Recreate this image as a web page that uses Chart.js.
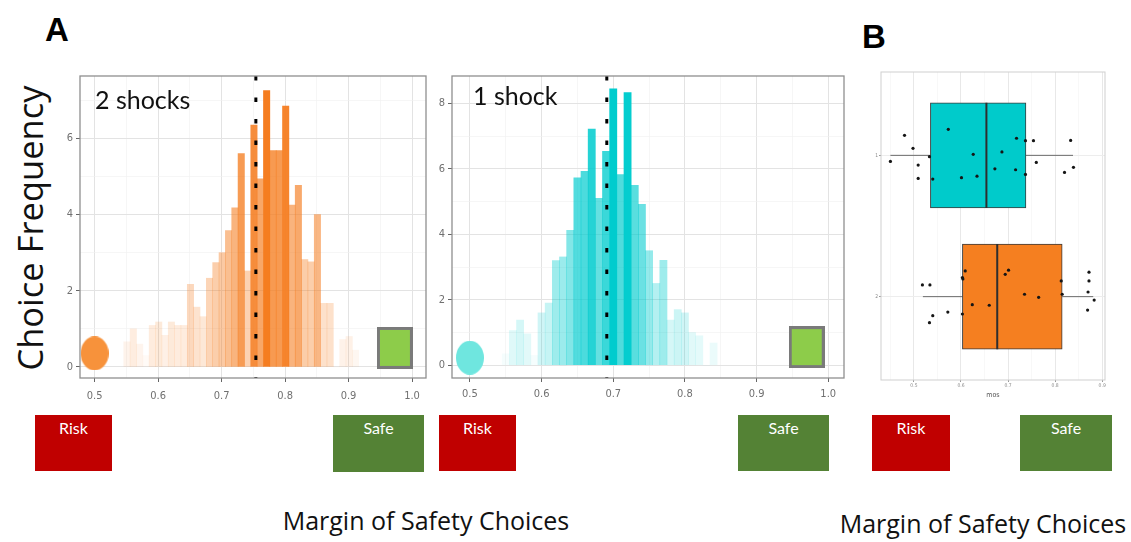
<!DOCTYPE html>
<html><head><meta charset="utf-8">
<script src="https://cdn.jsdelivr.net/npm/chart.js@4.4.1/dist/chart.umd.min.js"></script>
<style>
html,body{margin:0;padding:0;background:#fff;}
#root{position:relative;width:1131px;height:542px;overflow:hidden;background:#fff;font-family:Lato,'Open Sans',sans-serif;color:#111;}
.panel{position:absolute;}
.txt{position:absolute;line-height:1;white-space:nowrap;}
.letter{font-family:'Liberation Sans','DejaVu Sans',sans-serif;font-weight:bold;font-size:33px;color:#000;}
.tag{position:absolute;color:#fff;font-size:16px;line-height:1;text-align:center;padding-top:5px;box-sizing:border-box;font-family:Lato,sans-serif;}
.risk{background:#C00000;}
.safe{background:#548235;}
.big{font-family:'Open Sans',Lato,sans-serif;}
</style></head>
<body><div id="root">
  <div class="txt letter" style="left:45px;top:13px;">A</div>
  <div class="txt letter" style="left:862px;top:20px;">B</div>
  <div class="txt big" style="left:-120px;top:208px;width:300px;height:40px;line-height:40px;text-align:center;font-size:34.5px;transform:rotate(-90deg);">Choice Frequency</div>

  <div class="panel" style="left:50px;top:60px;width:392px;height:350px;"><canvas id="c1"></canvas></div>
  <div class="panel" style="left:420px;top:60px;width:440px;height:350px;"><canvas id="c2"></canvas></div>
  <div class="panel" style="left:855px;top:60px;width:270px;height:345px;"><canvas id="c3"></canvas></div>

  <div class="txt" style="left:95px;top:87px;font-size:25px;">2 shocks</div>
  <div class="txt" style="left:473px;top:83px;font-size:25px;">1 shock</div>

  <div class="tag risk" style="left:35px;top:415px;width:77px;height:56px;">Risk</div>
  <div class="tag safe" style="left:333px;top:415px;width:91px;height:57px;">Safe</div>
  <div class="tag risk" style="left:439px;top:415px;width:77px;height:56px;">Risk</div>
  <div class="tag safe" style="left:738px;top:415px;width:91px;height:56px;">Safe</div>
  <div class="tag risk" style="left:872px;top:415px;width:78px;height:56px;">Risk</div>
  <div class="tag safe" style="left:1020px;top:415px;width:92px;height:56px;">Safe</div>

  <div class="txt big" style="left:226px;top:508px;width:400px;text-align:center;font-size:25px;">Margin of Safety Choices</div>
  <div class="txt big" style="left:783px;top:511px;width:400px;text-align:center;font-size:25px;">Margin of Safety Choices</div>
</div>
<script>
// ---------------- data ----------------
const xTickLabels = ['0.5','0.6','0.7','0.8','0.9','1.0'];
const xMajorTicks = [0.5, 0.6, 0.7, 0.8, 0.9, 1.0];
const xMinorTicks = [0.55, 0.65, 0.75, 0.85, 0.95];

// 2 shocks histogram
const twoShockBins = [0.551,0.561,0.571,0.581,0.591,0.601,0.611,0.621,0.631,0.641,0.651,0.661,0.671,0.681,0.691,0.701,0.711,0.721,0.731,0.741,0.751,0.761,0.771,0.781,0.791,0.801,0.811,0.821,0.831,0.841,0.851,0.861,0.871,0.881,0.891,0.901,0.911];
const twoShockFreq = [0.66,1.0,0.6,0.3,1.09,1.18,0.83,1.18,1.09,1.09,2.17,1.57,1.32,2.33,2.74,3.0,3.58,4.18,5.6,2.52,6.35,4.94,7.26,5.68,5.68,6.85,4.25,4.77,2.82,2.76,4.0,1.67,1.67,0,0.72,0.8,0.44];
const twoShockMean = 0.754;
const twoShockYMajor = [0, 2, 4, 6];
const twoShockYMinor = [1, 3, 5, 7];
const twoShockRisk = {x: 0.5, y: 0.355};
const twoShockSafe = {x: 0.973, y: 0.5};

// 1 shock histogram
const oneShockBins = [0.55,0.56,0.57,0.58,0.59,0.60,0.61,0.62,0.63,0.64,0.65,0.66,0.67,0.68,0.69,0.70,0.71,0.72,0.73,0.74,0.75,0.76,0.77,0.78,0.79,0.80,0.81,0.82,0.83,0.84];
const oneShockFreq = [0.35,1.06,1.38,0.96,0.3,1.6,1.9,3.2,3.31,4.12,5.73,5.93,7.22,5.1,6.54,8.45,5.83,8.33,5.5,4.92,3.5,2.5,3.21,1.38,1.7,1.6,1.0,0.9,0,0.68];
const oneShockMean = 0.691;
const oneShockYMajor = [0, 2, 4, 6, 8];
const oneShockYMinor = [1, 3, 5, 7];
const oneShockRisk = {x: 0.5, y: 0.23};
const oneShockSafe = {x: 0.970, y: 0.555};

// B: box plots (row 1 = 1 shock, row 2 = 2 shocks)
const boxRows = [1, 2];
const boxRowLabels = ['1', '2'];
const boxQ1 = [0.535, 0.603];
const boxMedian = [0.654, 0.677];
const boxQ3 = [0.738, 0.815];
const whiskerLow = [0.450, 0.519];
const whiskerHigh = [0.838, 0.881];
const boxXMajor = [0.5, 0.6, 0.7, 0.8, 0.9];
const boxXMinor = [0.45, 0.55, 0.65, 0.75, 0.85];
const oneShockSubjX = [0.480,0.573,0.498,0.450,0.509,0.533,0.509,0.540,0.601,0.626,0.634,0.672,0.687,0.716,0.718,0.737,0.737,0.754,0.760,0.820,0.833,0.839];
const oneShockSubjY = [0.858,0.816,0.950,1.043,1.069,1.009,1.163,1.168,1.158,0.993,1.147,1.095,0.976,1.102,0.879,0.896,1.135,0.896,1.050,1.121,0.894,1.085];
const twoShockSubjX = [0.518,0.534,0.540,0.533,0.572,0.603,0.604,0.609,0.603,0.624,0.660,0.694,0.701,0.735,0.765,0.813,0.815,0.872,0.872,0.870,0.869,0.883];
const twoShockSubjY = [1.917,1.917,2.135,2.184,2.109,1.865,1.875,1.818,2.123,2.057,2.061,1.842,1.813,1.983,2.005,1.889,1.983,1.827,1.889,1.967,2.095,2.024];

// ---------------- styles ----------------
const ORANGE = [245, 125, 32];
const CYAN = [0, 204, 206];
const tickFont = "'Liberation Sans Narrow','DejaVu Sans Condensed','Liberation Sans',sans-serif";
const BOX_HALF = 0.372; // half box height in row units (matches barThickness)

function rgba(c, a) { return 'rgba(' + c[0] + ',' + c[1] + ',' + c[2] + ',' + a.toFixed(3) + ')'; }
function isIn(list, v) { return list.some(m => Math.abs(m - v) < 1e-6); }

function ellipseMarker(w, h, color) {
  const c = document.createElement('canvas'); c.width = w; c.height = h;
  const g = c.getContext('2d'); g.fillStyle = color;
  g.beginPath(); g.ellipse(w / 2, h / 2, w / 2, h / 2, 0, 0, Math.PI * 2); g.fill();
  return c;
}
function rectMarker(w, h, fill, stroke, lw) {
  const c = document.createElement('canvas'); c.width = w; c.height = h;
  const g = c.getContext('2d'); g.fillStyle = fill; g.fillRect(0, 0, w, h);
  g.strokeStyle = stroke; g.lineWidth = lw; g.strokeRect(lw / 2, lw / 2, w - lw, h - lw);
  return c;
}

const framePlugin = {
  id: 'frame',
  afterDraw(chart, args, opts) {
    const a = chart.chartArea, ctx = chart.ctx;
    ctx.save(); ctx.strokeStyle = opts.color || '#888'; ctx.lineWidth = opts.width || 1;
    ctx.strokeRect(a.left, a.top, a.right - a.left, a.bottom - a.top);
    ctx.restore();
  }
};
Chart.register(framePlugin);

function gridOpts(major, majorColor, minorColor, tickColor, tickLen) {
  return {
    offset: false,
    color: c => (c.tick && isIn(major, c.tick.value)) ? majorColor : minorColor,
    lineWidth: c => (c.tick && isIn(major, c.tick.value)) ? 1 : 0.6,
    tickColor: c => (c.tick && isIn(major, c.tick.value)) ? tickColor : 'rgba(0,0,0,0)',
    tickLength: tickLen, drawTicks: true
  };
}

function histogram(id, cfg) {
  const max = Math.max(...cfg.freq);
  return new Chart(document.getElementById(id), {
    type: 'bar',
    data: { datasets: [
      { type: 'line', data: [{x: cfg.mean, y: cfg.yMax}, {x: cfg.mean, y: cfg.yMin}],
        borderColor: '#000', borderWidth: 3, borderDash: [4.5, 17], borderCapStyle: 'butt',
        pointRadius: 0, order: 0 },
      { type: 'scatter', data: [cfg.risk], pointStyle: ellipseMarker(28, 34, cfg.riskColor), pointRadius: 15, order: 1 },
      { type: 'scatter', data: [cfg.safe], pointStyle: rectMarker(36, 42, '#8DCC4A', '#7a7a7a', 3), pointRadius: 15, order: 1 },
      { type: 'bar', data: cfg.bins.map((b, i) => ({x: b, y: cfg.freq[i]})),
        backgroundColor: cfg.freq.map(v => rgba(cfg.rgb, Math.max(0.04, v / max))),
        barPercentage: 1, categoryPercentage: 1, borderWidth: 0, order: 2 }
    ]},
    options: {
      responsive: true, maintainAspectRatio: false, animation: false,
      layout: { padding: { top: cfg.padTop, right: cfg.padRight, left: 0, bottom: 0 } },
      plugins: { legend: { display: false }, tooltip: { enabled: false }, frame: { color: '#8f8f8f', width: 1.3 } },
      scales: {
        x: {
          type: 'linear', min: cfg.xMin, max: cfg.xMax, offset: false,
          afterBuildTicks: s => { s.ticks = xMajorTicks.concat(xMinorTicks).sort((a, b) => a - b).map(v => ({value: v})); },
          afterFit: s => { s.height = cfg.xAxisH; },
          grid: gridOpts(xMajorTicks, '#e3e3e3', '#f0f0f0', '#666', 4),
          border: { display: false },
          ticks: { autoSkip: false, maxRotation: 0, minRotation: 0, padding: cfg.xPad, color: '#707070',
            font: { family: tickFont, size: 11 },
            callback: v => { const i = xMajorTicks.findIndex(m => Math.abs(m - v) < 1e-6); return i < 0 ? '' : xTickLabels[i]; } }
        },
        y: {
          type: 'linear', min: cfg.yMin, max: cfg.yMax,
          afterBuildTicks: s => { s.ticks = cfg.yMajor.concat(cfg.yMinor).sort((a, b) => a - b).map(v => ({value: v})); },
          afterFit: s => { s.width = cfg.yAxisW; },
          grid: gridOpts(cfg.yMajor, '#e3e3e3', '#f0f0f0', '#666', 4),
          border: { display: false },
          ticks: { autoSkip: false, padding: 3, color: '#707070', font: { family: tickFont, size: 11 },
            callback: v => isIn(cfg.yMajor, v) ? String(Math.round(v)) : '' }
        }
      }
    }
  });
}

histogram('c1', {
  bins: twoShockBins, freq: twoShockFreq, mean: twoShockMean, rgb: ORANGE,
  risk: twoShockRisk, safe: twoShockSafe, riskColor: '#F7923B',
  yMajor: twoShockYMajor, yMinor: twoShockYMinor,
  xMin: 0.477, xMax: 1.022, yMin: -0.29, yMax: 7.64,
  padTop: 13, padRight: 10, xAxisH: 32, yAxisW: 30, xPad: 8
});
histogram('c2', {
  bins: oneShockBins, freq: oneShockFreq, mean: oneShockMean, rgb: CYAN,
  risk: oneShockRisk, safe: oneShockSafe, riskColor: '#6FE6DF',
  yMajor: oneShockYMajor, yMinor: oneShockYMinor,
  xMin: 0.475, xMax: 1.022, yMin: -0.39, yMax: 8.84,
  padTop: 13, padRight: 11, xAxisH: 32, yAxisW: 32, xPad: 6
});

// ---------------- panel B ----------------
const boxFill = ['#00CBCB', '#F57F20'];
const boxDatasets = [];
boxDatasets.push({ type: 'scatter', data: oneShockSubjX.map((x, i) => ({x, y: oneShockSubjY[i]})),
  pointRadius: 1.6, pointBackgroundColor: '#151515', pointBorderWidth: 0, order: 0 });
boxDatasets.push({ type: 'scatter', data: twoShockSubjX.map((x, i) => ({x, y: twoShockSubjY[i]})),
  pointRadius: 1.6, pointBackgroundColor: '#151515', pointBorderWidth: 0, order: 0 });
boxRows.forEach((r, i) => {
  boxDatasets.push({ type: 'line', data: [{x: boxMedian[i], y: r - BOX_HALF}, {x: boxMedian[i], y: r + BOX_HALF}],
    borderColor: '#2e2e2e', borderWidth: 2, pointRadius: 0, order: 1 });
  boxDatasets.push({ type: 'line', data: [{x: whiskerLow[i], y: r}, {x: boxQ1[i], y: r}],
    borderColor: '#6a6a6a', borderWidth: 1, pointRadius: 0, order: 3 });
  boxDatasets.push({ type: 'line', data: [{x: boxQ3[i], y: r}, {x: whiskerHigh[i], y: r}],
    borderColor: '#6a6a6a', borderWidth: 1, pointRadius: 0, order: 3 });
});
boxDatasets.push({ type: 'bar', indexAxis: 'y',
  data: boxRows.map((r, i) => ({y: r, x: [boxQ1[i], boxQ3[i]]})),
  backgroundColor: boxFill, borderColor: '#3a3a3a', borderWidth: 1, borderSkipped: false,
  barThickness: 105, order: 2 });

new Chart(document.getElementById('c3'), {
  type: 'bar',
  data: { datasets: boxDatasets },
  options: {
    indexAxis: 'y',
    responsive: true, maintainAspectRatio: false, animation: false,
    layout: { padding: { top: 12, right: 20, left: 0, bottom: 0 } },
    plugins: { legend: { display: false }, tooltip: { enabled: false }, frame: { color: '#cfcfcf', width: 1 } },
    scales: {
      x: {
        type: 'linear', min: 0.43, max: 0.906, offset: false,
        afterBuildTicks: s => { s.ticks = boxXMajor.concat(boxXMinor).sort((a, b) => a - b).map(v => ({value: v})); },
        afterFit: s => { s.height = 25; },
        grid: gridOpts(boxXMajor, '#e8e8e8', '#f3f3f3', '#999', 2),
        border: { display: false },
        ticks: { autoSkip: false, maxRotation: 0, padding: 1, color: '#8a8a8a', font: { family: tickFont, size: 5 },
          callback: v => isIn(boxXMajor, v) ? v.toFixed(1) : '' },
        title: { display: true, text: 'mos', color: '#555', font: { family: tickFont, size: 7 }, padding: { top: 0, bottom: 6 } }
      },
      y: {
        type: 'linear', min: 0.41, max: 2.59, reverse: true, offset: false,
        afterBuildTicks: s => { s.ticks = boxRows.map(v => ({value: v})); },
        afterFit: s => { s.width = 26; },
        grid: { offset: false, color: '#ededed', lineWidth: 1, tickColor: '#999', tickLength: 2 },
        border: { display: false },
        ticks: { autoSkip: false, padding: 1, color: '#8a8a8a', font: { family: tickFont, size: 5 },
          callback: v => { const i = boxRows.indexOf(Math.round(v)); return i < 0 ? '' : boxRowLabels[i]; } }
      }
    }
  }
});
</script>
</body></html>
